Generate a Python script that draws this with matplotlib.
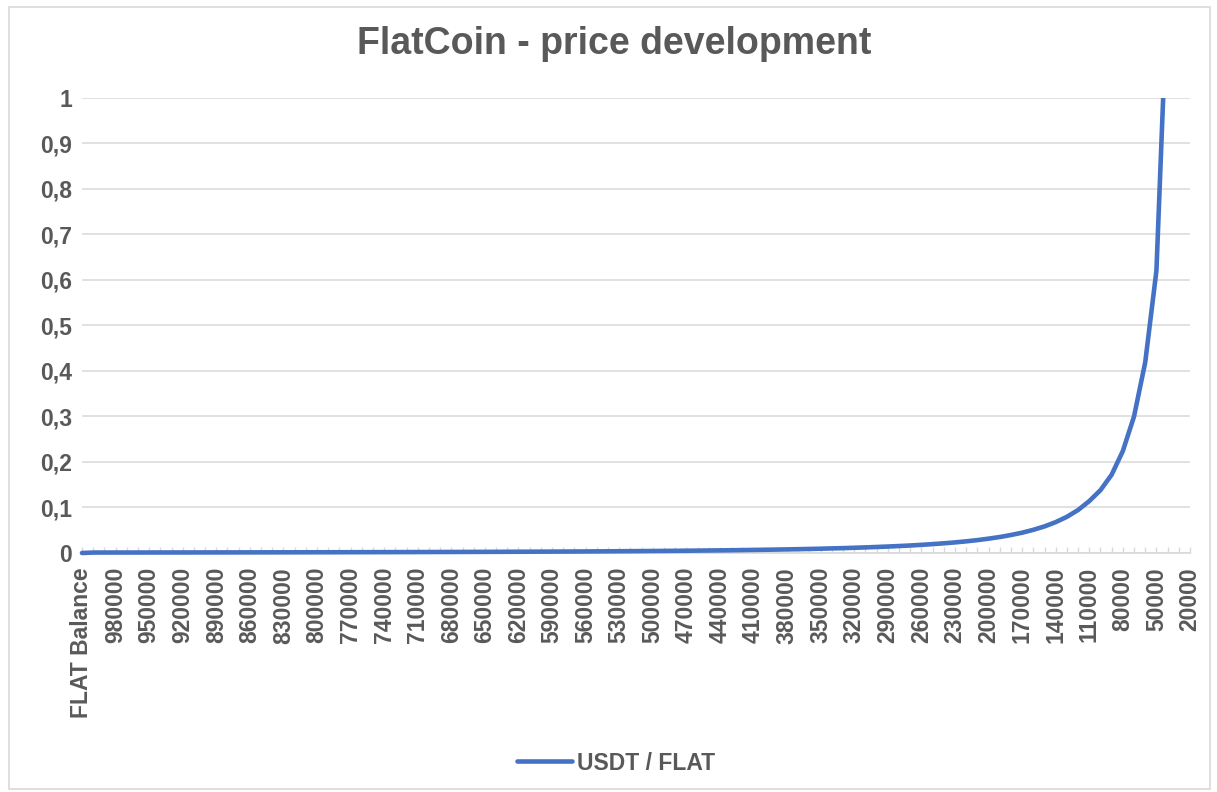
import matplotlib
matplotlib.use("Agg")
import matplotlib.pyplot as plt
from matplotlib.patches import Rectangle

# ---- data ----
balances = ["FLAT Balance"] + [str(b) for b in range(1000000, 10000, -10000)]
usdt_per_flat = [
    0.0,
    0.00099, 0.00101, 0.00103, 0.00106, 0.00108, 0.00110, 0.00113, 0.00116, 0.00118, 0.00121,
    0.00124, 0.00127, 0.00130, 0.00133, 0.00137, 0.00140, 0.00144, 0.00148, 0.00152, 0.00156,
    0.00160, 0.00164, 0.00169, 0.00173, 0.00178, 0.00184, 0.00189, 0.00195, 0.00200, 0.00207,
    0.00213, 0.00220, 0.00227, 0.00234, 0.00242, 0.00250, 0.00258, 0.00267, 0.00276, 0.00286,
    0.00297, 0.00308, 0.00319, 0.00331, 0.00344, 0.00358, 0.00372, 0.00387, 0.00403, 0.00421,
    0.00439, 0.00458, 0.00479, 0.00501, 0.00525, 0.00551, 0.00578, 0.00607, 0.00639, 0.00673,
    0.00709, 0.00749, 0.00792, 0.00839, 0.00890, 0.00945, 0.0101, 0.0107, 0.0115, 0.0123,
    0.0132, 0.0142, 0.0153, 0.0165, 0.0179, 0.0195, 0.0213, 0.0233, 0.0256, 0.0283,
    0.0315, 0.0351, 0.0395, 0.0446, 0.0509, 0.0584, 0.0678, 0.0795, 0.0944, 0.114,
    0.138, 0.172, 0.224, 0.300, 0.419, 0.620, 1.25, 2.5, 6.0,
]
y_ticks = [0, 0.1, 0.2, 0.3, 0.4, 0.5, 0.6, 0.7, 0.8, 0.9, 1]
y_tick_labels = ["0", "0,1", "0,2", "0,3", "0,4", "0,5", "0,6", "0,7", "0,8", "0,9", "1"]
title = "FlatCoin - price development"
series_name = "USDT / FLAT"

# ---- style ----
plt.rcParams["font.family"] = ["Liberation Sans", "DejaVu Sans"]
TXT = "#595959"
GRID = "#D9D9D9"
BLUE = "#4472C4"

W, H = 1217, 792
fig = plt.figure(figsize=(W / 100, H / 100), dpi=100)
fig.patch.set_facecolor("white")

L, R, T, B = 82, 1190, 97.7, 553
ax = fig.add_axes([L / W, 1 - B / H, (R - L) / W, (B - T) / H])

x = list(range(len(balances)))
line, = ax.plot(x, usdt_per_flat, color=BLUE, lw=3.3, solid_joinstyle="round",
                solid_capstyle="round", label=series_name, zorder=3)
clip = Rectangle((-0.02, -0.03), 1.04, 1.03, transform=ax.transAxes,
                 facecolor="none", edgecolor="none")
ax.add_patch(clip)
line.set_clip_path(clip)

ax.set_xlim(0, len(balances) - 1)
ax.set_ylim(0, 1)

ax.set_yticks(y_ticks)
ax.set_yticklabels(y_tick_labels, fontsize=16.5, fontweight="bold", color=TXT)
ax.tick_params(axis="y", length=0, pad=7)
ax.yaxis.grid(True, color=GRID, lw=1.1)
ax.set_axisbelow(True)

ax.set_xticks(x, minor=True)
ax.set_xticks(x[::3])
ax.set_xticklabels(balances[::3], rotation=90, fontsize=16.5, fontweight="bold",
                   color=TXT, ha="center", va="top")
ax.tick_params(axis="x", which="both", direction="in", length=4, width=1,
               color=GRID, pad=10)

for s in ["left", "right", "top"]:
    ax.spines[s].set_visible(False)
ax.spines["bottom"].set_color(GRID)
ax.spines["bottom"].set_linewidth(1.2)

fig.text(614 / W, 1 - 44 / H, title, ha="center", va="center",
         fontsize=27, fontweight="bold", color=TXT)

leg = fig.legend(handles=[line], labels=[series_name], loc="center",
                 bbox_to_anchor=(616 / W, 1 - 763 / H), frameon=False,
                 prop={"size": 16.5, "weight": "bold"}, handlelength=2.4,
                 handletextpad=0.2, labelcolor=TXT)

fig.add_artist(Rectangle((9 / W, 1 - 789 / H), 1201 / W, 782 / H,
                         transform=fig.transFigure, facecolor="none",
                         edgecolor=GRID, lw=1.2))

fig.savefig("out.png", dpi=100, facecolor="white")
